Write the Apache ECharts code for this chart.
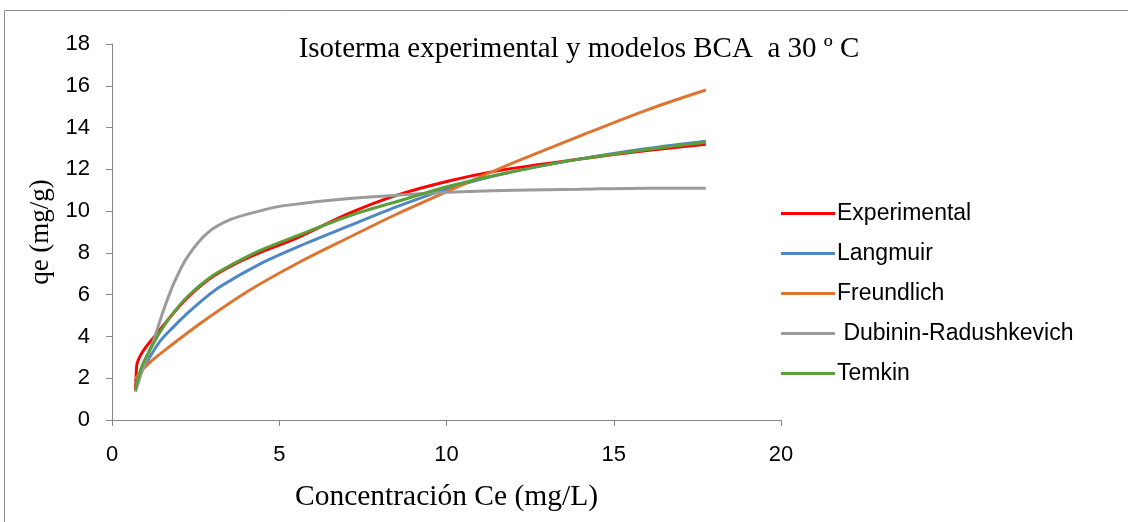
<!DOCTYPE html>
<html><head><meta charset="utf-8">
<script src="https://cdn.jsdelivr.net/npm/echarts@6/dist/echarts.min.js"></script>
<style>html,body{margin:0;padding:0;background:#fff}#c{width:1128px;height:522px}</style>
</head><body><div id="c"></div>
<script>
const titleText = 'Isoterma experimental y modelos BCA  a 30 º C';
const xTitle = 'Concentración Ce (mg/L)';
const yTitle = 'qe (mg/g)';
const seriesNames = ['Experimental', 'Langmuir', 'Freundlich', ' Dubinin-Radushkevich', 'Temkin'];

const expX = [0.7, 0.72, 0.75, 0.95, 1.35, 1.75, 2.25, 2.95, 3.65, 4.4, 5.5, 7.1, 8.5, 10.1, 11.6, 14, 16, 17.75];
const expY = [1.4, 2.0, 2.7, 3.35, 4.15, 4.95, 5.85, 6.8, 7.45, 8.0, 8.7, 9.9, 10.75, 11.45, 11.95, 12.5, 12.9, 13.2];

const langX = [0.7, 0.8, 1.0, 1.2, 1.45, 1.8, 2.25, 2.75, 3.25, 4.4, 5.5, 7.1, 8.5, 10.1, 11.6, 14, 16, 17.75];
const langY = [1.7, 2.05, 2.65, 3.2, 3.8, 4.4, 5.1, 5.8, 6.4, 7.45, 8.25, 9.3, 10.2, 11.1, 11.75, 12.5, 13.0, 13.35];

const freuX = [0.7, 0.85, 1.2, 1.75, 2.75, 4.1, 5.6, 7.1, 8.5, 10.1, 11.6, 14, 16, 17.75];
const freuY = [1.95, 2.3, 2.85, 3.55, 4.75, 6.2, 7.55, 8.75, 9.85, 11.0, 12.05, 13.6, 14.85, 15.8];

const drX = [0.7, 0.85, 1.0, 1.25, 1.55, 1.85, 2.25, 2.85, 3.55, 4.4, 5.1, 7.1, 10.1, 12, 14, 16, 17.75];
const drY = [1.35, 2.1, 2.8, 3.85, 5.3, 6.55, 7.8, 8.95, 9.6, 10.0, 10.25, 10.6, 10.9, 11.0, 11.05, 11.1, 11.1];

const temX = [0.7, 0.75, 0.9, 1.15, 1.45, 1.75, 2.25, 2.95, 3.65, 4.4, 5.5, 7.1, 8.5, 10.1, 12, 14, 16, 17.75];
const temY = [1.45, 1.8, 2.6, 3.4, 4.25, 4.95, 5.9, 6.85, 7.5, 8.1, 8.8, 9.78, 10.45, 11.2, 11.9, 12.5, 12.95, 13.3];

const colors = ['#FF0000', '#4F86C6', '#DD7430', '#9B9B9B', '#5B9E3A'];

const zip = (xs, ys) => xs.map((x, i) => [x, ys[i]]);
const datasets = [zip(expX, expY), zip(langX, langY), zip(freuX, freuY), zip(drX, drY), zip(temX, temY)];

const series = seriesNames.map((name, i) => ({
  name: name,
  type: 'line',
  data: datasets[i],
  smooth: 0.3,
  showSymbol: false,
  symbol: 'none',
  lineStyle: { width: 3, color: colors[i] },
  itemStyle: { color: colors[i] },
  z: 2 + i
}));

const chart = echarts.init(document.getElementById('c'));
chart.setOption({
  animation: false,
  title: {
    text: titleText,
    left: 574, top: 30, textAlign: 'center',
    textStyle: { fontFamily: 'Liberation Serif', fontWeight: 'normal', fontSize: 29, color: '#000' }
  },
  legend: {
    orient: 'vertical',
    left: 776, top: 197,
    icon: 'rect',
    itemWidth: 54, itemHeight: 3,
    itemGap: 17,
    textStyle: { fontFamily: 'Liberation Sans', fontSize: 23, color: '#000', lineHeight: 23, padding: [0, 0, 0, -3] },
    data: seriesNames
  },
  graphic: [{
    type: 'rect', shape: { x: 4.5, y: 10.5, width: 1130, height: 520 },
    style: { fill: 'none', stroke: '#8a8a8a', lineWidth: 1 }, silent: true
  }],
  grid: { left: 112, right: 347, top: 44, bottom: 102, containLabel: false },
  xAxis: {
    type: 'value', min: 0, max: 20, interval: 5,
    name: xTitle, nameLocation: 'middle', nameGap: 62,
    nameTextStyle: { fontFamily: 'Liberation Serif', fontSize: 29.5, color: '#000' },
    axisLine: { show: true, lineStyle: { color: '#868686', width: 1 } },
    axisTick: { show: true, inside: false, length: 6, lineStyle: { color: '#868686' } },
    axisLabel: { fontFamily: 'Liberation Sans', fontSize: 22, color: '#000', margin: 24 },
    splitLine: { show: false }
  },
  yAxis: {
    type: 'value', min: 0, max: 18, interval: 2,
    name: yTitle, nameLocation: 'middle', nameGap: 58, nameRotate: 90,
    nameTextStyle: { fontFamily: 'Liberation Serif', fontSize: 27, color: '#000' },
    axisLine: { show: true, lineStyle: { color: '#868686', width: 1 } },
    axisTick: { show: true, inside: false, length: 6, lineStyle: { color: '#868686' } },
    axisLabel: { fontFamily: 'Liberation Sans', fontSize: 22, color: '#000', margin: 22 },
    splitLine: { show: false }
  },
  series: series
});
</script></body></html>
